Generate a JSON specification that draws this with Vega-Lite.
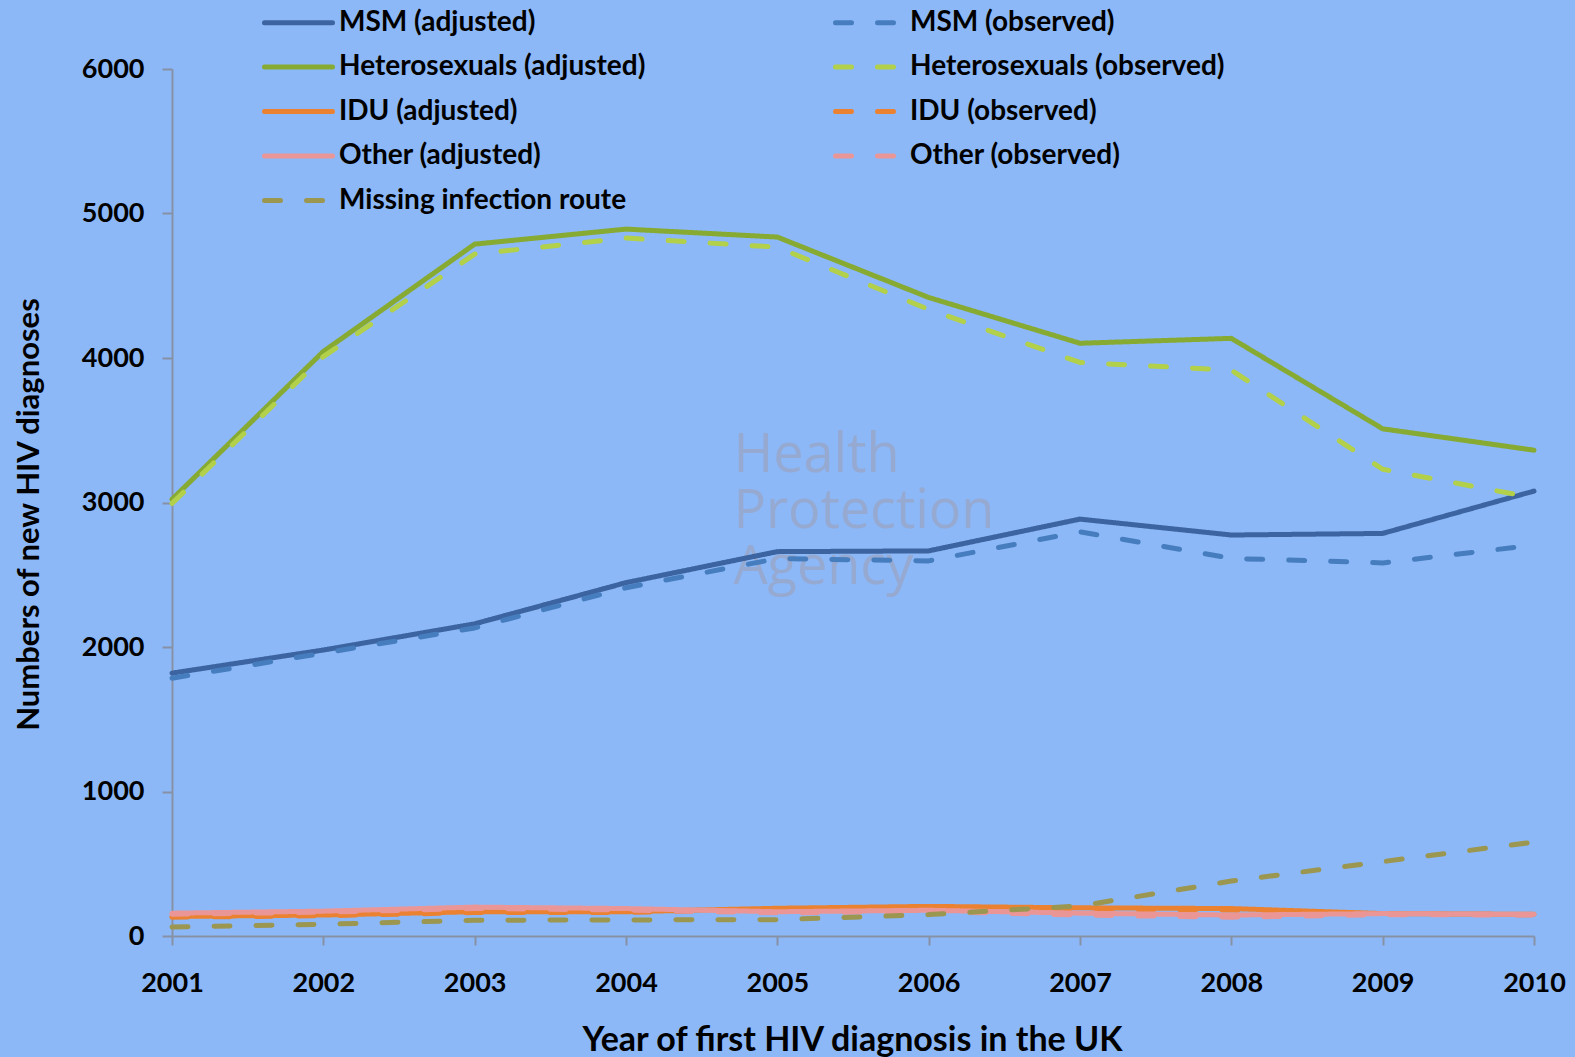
{
  "$schema": "https://vega.github.io/schema/vega-lite/v6.json",
  "width": 1362,
  "height": 867,
  "autosize": {"type": "none"},
  "padding": {"left": 172, "top": 69, "right": 41, "bottom": 121},
  "background": "#8CB8F7",
  "config": {"view": {"stroke": null}, "font": "Lato"},
  "encoding": {
    "x": {
      "field": "year", "type": "quantitative",
      "scale": {"domain": [2001, 2010], "nice": false, "zero": false},
      "axis": {
        "values": [2001, 2002, 2003, 2004, 2005, 2006, 2007, 2008, 2009, 2010],
        "format": "d", "grid": false,
        "title": "Year of first HIV diagnosis in the UK",
        "domainColor": "#8791A5", "domainWidth": 2,
        "tickColor": "#8791A5", "tickWidth": 2, "tickSize": 9,
        "labelFont": "Lato", "labelFontWeight": "bold", "labelFontSize": 27, "labelColor": "#000000",
        "labelPadding": 25, "labelFlush": false, "labelOverlap": false,
        "titleFont": "Lato", "titleFontWeight": "bold", "titleFontSize": 34, "titleColor": "#000000",
        "titleX": 680, "titleY": 114, "titleBaseline": "alphabetic", "titleAlign": "center"
      }
    },
    "y": {
      "field": "value", "type": "quantitative",
      "scale": {"domain": [0, 6000], "nice": false},
      "axis": {
        "values": [0, 1000, 2000, 3000, 4000, 5000, 6000],
        "format": "d", "grid": false,
        "title": "Numbers of new HIV diagnoses",
        "domainColor": "#8791A5", "domainWidth": 2,
        "tickColor": "#8791A5", "tickWidth": 2, "tickSize": 10,
        "labelFont": "Lato", "labelFontWeight": "bold", "labelFontSize": 27, "labelColor": "#000000",
        "labelPadding": 18,
        "titleFont": "Lato", "titleFontWeight": "bold", "titleFontSize": 31, "titleColor": "#000000",
        "titleX": -143, "titleY": 445, "titleAngle": 270, "titleBaseline": "middle", "titleAlign": "center"
      }
    }
  },
  "layer": [
    {
      "data": {"values": [
        {"year": 2004.71, "value": 3210, "t": ["Health", "Protection", "Agency"]}
      ]},
      "mark": {"type": "text", "align": "left", "baseline": "alphabetic", "font": "Open Sans", "fontSize": 54, "lineHeight": 56, "color": "#9AA4C4", "opacity": 0.75},
      "encoding": {"text": {"field": "t"}}
    },
    {
      "data": {"values": [
        {"series": "MSM (adjusted)", "year": 2001, "value": 1819},
        {"series": "MSM (adjusted)", "year": 2002, "value": 1979},
        {"series": "MSM (adjusted)", "year": 2003, "value": 2160},
        {"series": "MSM (adjusted)", "year": 2004, "value": 2445},
        {"series": "MSM (adjusted)", "year": 2005, "value": 2660},
        {"series": "MSM (adjusted)", "year": 2006, "value": 2665},
        {"series": "MSM (adjusted)", "year": 2007, "value": 2885},
        {"series": "MSM (adjusted)", "year": 2008, "value": 2775},
        {"series": "MSM (adjusted)", "year": 2009, "value": 2786},
        {"series": "MSM (adjusted)", "year": 2010, "value": 3079},
        {"series": "MSM (observed)", "year": 2001, "value": 1784},
        {"series": "MSM (observed)", "year": 2002, "value": 1958},
        {"series": "MSM (observed)", "year": 2003, "value": 2132},
        {"series": "MSM (observed)", "year": 2004, "value": 2410},
        {"series": "MSM (observed)", "year": 2005, "value": 2612},
        {"series": "MSM (observed)", "year": 2006, "value": 2596},
        {"series": "MSM (observed)", "year": 2007, "value": 2797},
        {"series": "MSM (observed)", "year": 2008, "value": 2613},
        {"series": "MSM (observed)", "year": 2009, "value": 2582},
        {"series": "MSM (observed)", "year": 2010, "value": 2705},
        {"series": "Heterosexuals (adjusted)", "year": 2001, "value": 3022},
        {"series": "Heterosexuals (adjusted)", "year": 2002, "value": 4045},
        {"series": "Heterosexuals (adjusted)", "year": 2003, "value": 4788},
        {"series": "Heterosexuals (adjusted)", "year": 2004, "value": 4892},
        {"series": "Heterosexuals (adjusted)", "year": 2005, "value": 4837},
        {"series": "Heterosexuals (adjusted)", "year": 2006, "value": 4419},
        {"series": "Heterosexuals (adjusted)", "year": 2007, "value": 4102},
        {"series": "Heterosexuals (adjusted)", "year": 2008, "value": 4136},
        {"series": "Heterosexuals (adjusted)", "year": 2009, "value": 3510},
        {"series": "Heterosexuals (adjusted)", "year": 2010, "value": 3362},
        {"series": "Heterosexuals (observed)", "year": 2001, "value": 2994},
        {"series": "Heterosexuals (observed)", "year": 2002, "value": 4010},
        {"series": "Heterosexuals (observed)", "year": 2003, "value": 4719},
        {"series": "Heterosexuals (observed)", "year": 2004, "value": 4830},
        {"series": "Heterosexuals (observed)", "year": 2005, "value": 4767},
        {"series": "Heterosexuals (observed)", "year": 2006, "value": 4336},
        {"series": "Heterosexuals (observed)", "year": 2007, "value": 3969},
        {"series": "Heterosexuals (observed)", "year": 2008, "value": 3916},
        {"series": "Heterosexuals (observed)", "year": 2009, "value": 3230},
        {"series": "Heterosexuals (observed)", "year": 2010, "value": 3032},
        {"series": "IDU (adjusted)", "year": 2001, "value": 135},
        {"series": "IDU (adjusted)", "year": 2002, "value": 145},
        {"series": "IDU (adjusted)", "year": 2003, "value": 168},
        {"series": "IDU (adjusted)", "year": 2004, "value": 168},
        {"series": "IDU (adjusted)", "year": 2005, "value": 192},
        {"series": "IDU (adjusted)", "year": 2006, "value": 205},
        {"series": "IDU (adjusted)", "year": 2007, "value": 195},
        {"series": "IDU (adjusted)", "year": 2008, "value": 190},
        {"series": "IDU (adjusted)", "year": 2009, "value": 155},
        {"series": "IDU (adjusted)", "year": 2010, "value": 150},
        {"series": "IDU (observed)", "year": 2001, "value": 130},
        {"series": "IDU (observed)", "year": 2002, "value": 140},
        {"series": "IDU (observed)", "year": 2003, "value": 162},
        {"series": "IDU (observed)", "year": 2004, "value": 163},
        {"series": "IDU (observed)", "year": 2005, "value": 186},
        {"series": "IDU (observed)", "year": 2006, "value": 198},
        {"series": "IDU (observed)", "year": 2007, "value": 186},
        {"series": "IDU (observed)", "year": 2008, "value": 180},
        {"series": "IDU (observed)", "year": 2009, "value": 152},
        {"series": "IDU (observed)", "year": 2010, "value": 147},
        {"series": "Other (adjusted)", "year": 2001, "value": 158},
        {"series": "Other (adjusted)", "year": 2002, "value": 172},
        {"series": "Other (adjusted)", "year": 2003, "value": 200},
        {"series": "Other (adjusted)", "year": 2004, "value": 190},
        {"series": "Other (adjusted)", "year": 2005, "value": 168},
        {"series": "Other (adjusted)", "year": 2006, "value": 178},
        {"series": "Other (adjusted)", "year": 2007, "value": 158},
        {"series": "Other (adjusted)", "year": 2008, "value": 145},
        {"series": "Other (adjusted)", "year": 2009, "value": 155},
        {"series": "Other (adjusted)", "year": 2010, "value": 150},
        {"series": "Other (observed)", "year": 2001, "value": 150},
        {"series": "Other (observed)", "year": 2002, "value": 165},
        {"series": "Other (observed)", "year": 2003, "value": 190},
        {"series": "Other (observed)", "year": 2004, "value": 180},
        {"series": "Other (observed)", "year": 2005, "value": 160},
        {"series": "Other (observed)", "year": 2006, "value": 170},
        {"series": "Other (observed)", "year": 2007, "value": 145},
        {"series": "Other (observed)", "year": 2008, "value": 130},
        {"series": "Other (observed)", "year": 2009, "value": 148},
        {"series": "Other (observed)", "year": 2010, "value": 145},
        {"series": "Missing infection route", "year": 2001, "value": 62},
        {"series": "Missing infection route", "year": 2002, "value": 81},
        {"series": "Missing infection route", "year": 2003, "value": 109},
        {"series": "Missing infection route", "year": 2004, "value": 111},
        {"series": "Missing infection route", "year": 2005, "value": 113},
        {"series": "Missing infection route", "year": 2006, "value": 148},
        {"series": "Missing infection route", "year": 2007, "value": 208},
        {"series": "Missing infection route", "year": 2008, "value": 380},
        {"series": "Missing infection route", "year": 2009, "value": 515},
        {"series": "Missing infection route", "year": 2010, "value": 650}
      ]},
      "mark": {"type": "line", "strokeWidth": 5, "strokeCap": "round", "strokeJoin": "round"},
      "encoding": {
        "color": {
          "field": "series", "type": "nominal",
          "scale": {
            "domain": ["MSM (adjusted)", "MSM (observed)", "Heterosexuals (adjusted)", "Heterosexuals (observed)", "IDU (adjusted)", "IDU (observed)", "Other (adjusted)", "Other (observed)", "Missing infection route"],
            "range": ["#3C64A0", "#467DBE", "#86AA32", "#B2D04A", "#EB8232", "#EB8232", "#EB9696", "#EB9696", "#9B9650"]
          },
          "legend": {
            "title": null, "orient": "none", "direction": "horizontal", "legendX": 124, "legendY": -66,
            "columns": 2, "columnPadding": 179, "rowPadding": 10.5, "padding": 0,
            "symbolType": "M -3 0 H 1", "symbolSize": 1156, "symbolStrokeWidth": 5,
            "labelFont": "Lato", "labelFontWeight": "bold", "labelFontSize": 28, "labelColor": "#000000",
            "labelLimit": 600, "labelOffset": 4,
            "encode": {"symbols": {"update": {"strokeCap": {"value": "round"}}}}
          }
        },
        "strokeDash": {
          "field": "series", "type": "nominal",
          "scale": {
            "domain": ["MSM (adjusted)", "MSM (observed)", "Heterosexuals (adjusted)", "Heterosexuals (observed)", "IDU (adjusted)", "IDU (observed)", "Other (adjusted)", "Other (observed)", "Missing infection route"],
            "range": [[1, 0], [16, 26], [1, 0], [16, 26], [1, 0], [16, 26], [1, 0], [16, 26], [16, 26]]
          },
          "legend": {
            "title": null, "orient": "none", "direction": "horizontal", "legendX": 124, "legendY": -66,
            "columns": 2, "columnPadding": 179, "rowPadding": 10.5, "padding": 0,
            "symbolType": "M -3 0 H 1", "symbolSize": 1156, "symbolStrokeWidth": 5,
            "labelFont": "Lato", "labelFontWeight": "bold", "labelFontSize": 28, "labelColor": "#000000",
            "labelLimit": 600, "labelOffset": 4,
            "encode": {"symbols": {"update": {"strokeCap": {"value": "round"}}}}
          }
        }
      }
    }
  ]
}
